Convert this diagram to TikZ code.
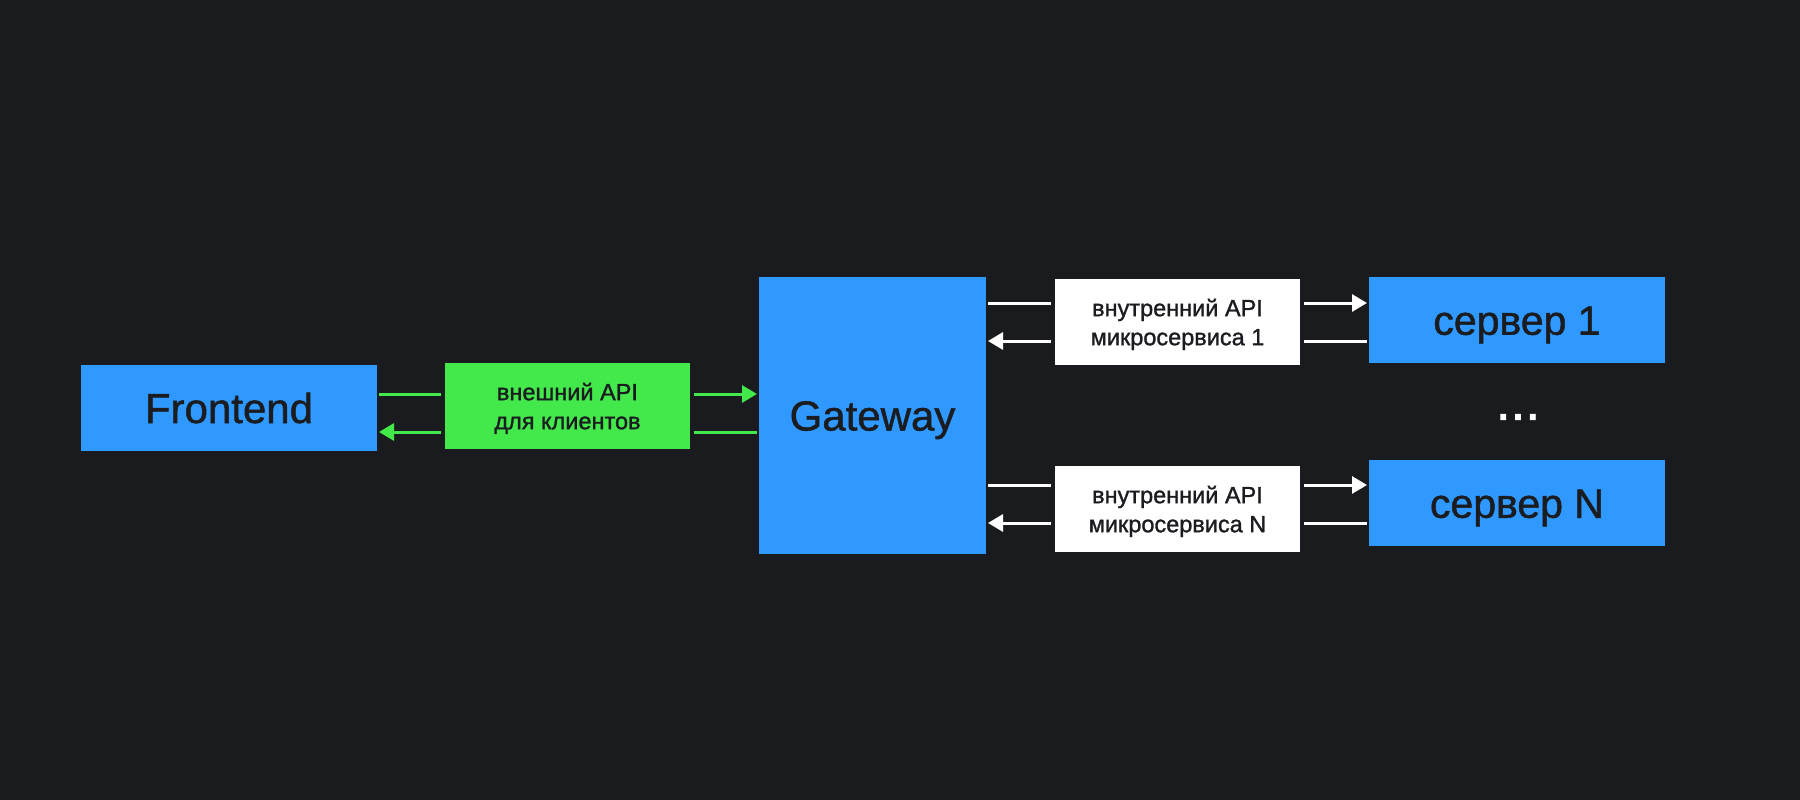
\documentclass[tikz,border=0pt]{standalone}
\usepackage{fontspec}
\setmainfont{Liberation Sans}[FakeBold=1.2]
\usetikzlibrary{arrows.meta}
\definecolor{bgc}{HTML}{1A1B1F}
\definecolor{bluec}{HTML}{2F99FF}
\definecolor{greenc}{HTML}{43E84B}
\definecolor{inkc}{HTML}{1B1C20}
\tikzset{
  box/.style={inner sep=0pt, outer sep=0pt, anchor=north west, text=inkc},
  mainbox/.style={box, fill=bluec, minimum width=296pt, minimum height=86pt, font=\fontsize{41}{48}\selectfont, text height=29.5pt, text depth=0pt},
  apibox/.style={box, minimum width=245pt, minimum height=86pt, align=center, font=\fontsize{23.5}{29}\selectfont, text depth=0pt},
  conn/.style={line width=3pt, shorten <=2pt, shorten >=4pt},
  connr/.style={line width=3pt, shorten <=4pt, shorten >=2pt},
  tip/.style={-{Triangle[length=15pt,width=17pt]}},
}
\begin{document}
\begin{tikzpicture}[x=1pt,y=-1pt]
\fill[bgc] (0,0) rectangle (1800,800);
\useasboundingbox (0,0) rectangle (1800,800);

\node[mainbox, font=\fontsize{42}{50}\selectfont, text height=30pt] (fe) at (81,365) {Frontend};
\node[apibox, fill=greenc] (ext) at (445,363) {внешний API\\для клиентов};
\node[box, fill=bluec, minimum width=227pt, minimum height=277pt, font=\fontsize{42}{50}\selectfont, text height=30pt, text depth=0pt] (gw) at (759,277) {Gateway};
\node[apibox, fill=white] (int1) at (1055,279) {внутренний API\\микросервиса 1};
\node[mainbox] (srv1) at (1369,277) {сервер 1};
\node[apibox, fill=white] (intN) at (1055,466) {внутренний API\\микросервиса N};
\node[mainbox] (srvN) at (1369,460) {сервер N};
\node[inner sep=0pt, text=white, font=\fontsize{53}{53}\selectfont] (dots) at (1518,417) {...};

\coordinate (g1) at (0,394);
\coordinate (g2) at (0,432);
\coordinate (a1) at (0,303);
\coordinate (a2) at (0,341);
\coordinate (b1) at (0,485);
\coordinate (b2) at (0,523);

% green connectors
\draw[conn, greenc] (fe.east |- g1) -- (ext.west |- g1);
\draw[connr, greenc, tip] (ext.west |- g2) -- (fe.east |- g2);
\draw[connr, greenc, tip] (ext.east |- g1) -- (gw.west |- g1);
\draw[conn, greenc] (gw.west |- g2) -- (ext.east |- g2);

% white connectors, service 1
\draw[conn, white] (gw.east |- a1) -- (int1.west |- a1);
\draw[connr, white, tip] (int1.west |- a2) -- (gw.east |- a2);
\draw[connr, white, tip] (int1.east |- a1) -- (srv1.west |- a1);
\draw[conn, white] (srv1.west |- a2) -- (int1.east |- a2);

% white connectors, service N
\draw[conn, white] (gw.east |- b1) -- (intN.west |- b1);
\draw[connr, white, tip] (intN.west |- b2) -- (gw.east |- b2);
\draw[connr, white, tip] (intN.east |- b1) -- (srvN.west |- b1);
\draw[conn, white] (srvN.west |- b2) -- (intN.east |- b2);
\end{tikzpicture}
\end{document}
